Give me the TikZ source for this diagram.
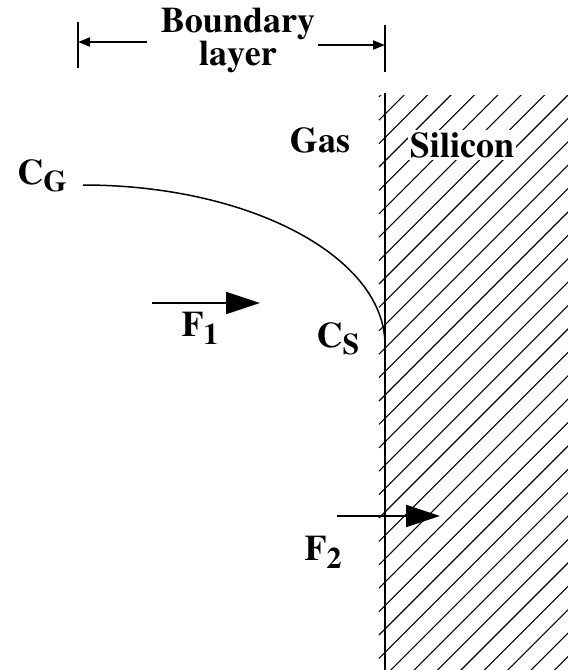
\documentclass[tikz,border=0pt]{standalone}
\usepackage[T1]{fontenc}
\usepackage{mathptmx}
\usetikzlibrary{arrows.meta, positioning, calc}
\newcommand{\lowsub}[1]{\raisebox{-0.45ex}{\fontsize{15}{15}\selectfont #1}}

\begin{document}
\begin{tikzpicture}[x=0.5pt, y=-0.5pt,
    font=\fontsize{18}{16.5}\selectfont\bfseries,
    lbl/.style={inner sep=1pt},
    force/.style={line width=1pt, -{Triangle[length=17pt, width=11pt]}},
    dimline/.style={line width=0.9pt, -{Triangle[length=6pt, width=4.5pt]}}]
        \useasboundingbox (0,0) rectangle (568,670);
        % silicon hatching
        \begin{scope}
          \clip (370,95) rectangle (568,670);
          \foreach \k in {-13,...,21}
            \draw[line width=0.55pt] (379,{395+23.4*\k+6}) -- (585,{395+23.4*\k-200});
        \end{scope}
        \coordinate (wtop) at (385,93);
        \coordinate (wbot) at (385,670);
        \draw[line width=1pt] (wtop) -- (wbot);
        \node[lbl, fill=white] (si) at (462,145) {Silicon};
        \node[lbl] (gas) at (320,140) {Gas};
        % boundary layer width
        \coordinate (barLt) at (78,22);
        \coordinate (barLb) at (78,68);
        \coordinate (barRt) at (385,25);
        \coordinate (barRb) at (385,72);
        \draw[line width=1pt] (barLt) -- (barLb);
        \draw[line width=1pt] (barRt) -- (barRb);
        \node[lbl, align=center] (bl) at (238,40) {Boundary\\layer};
        \coordinate (arrL) at (147,42);
        \coordinate (arrR) at (318,45);
        \draw[dimline] (arrL) -- (arrL -| barLt);
        \draw[dimline] (arrR) -- (arrR -| barRt);
        % concentration profile
        \node[lbl] (cg) at (42,176) {C\lowsub{G}};
        \node[lbl] (cs) at (338,339) {C\lowsub{S}};
        \coordinate (cgend) at (83,185);
        \coordinate (csend) at (385,345);
        \draw[line width=0.75pt] (cgend) .. controls +(167,0) and +(0,-88) .. (csend);
        % fluxes
        \coordinate (f1a) at (152,303);
        \coordinate (f1b) at (260,303);
        \draw[force] (f1a) -- (f1b);
        \node[lbl] (f1) at (200,328) {F\lowsub{1}};
        \coordinate (f2a) at (337,516);
        \coordinate (f2b) at (440,516);
        \draw[force] (f2a) -- (f2b);
        \node[lbl] (f2) at (323,552) {F\lowsub{2}};
      \end{tikzpicture}
\end{document}
